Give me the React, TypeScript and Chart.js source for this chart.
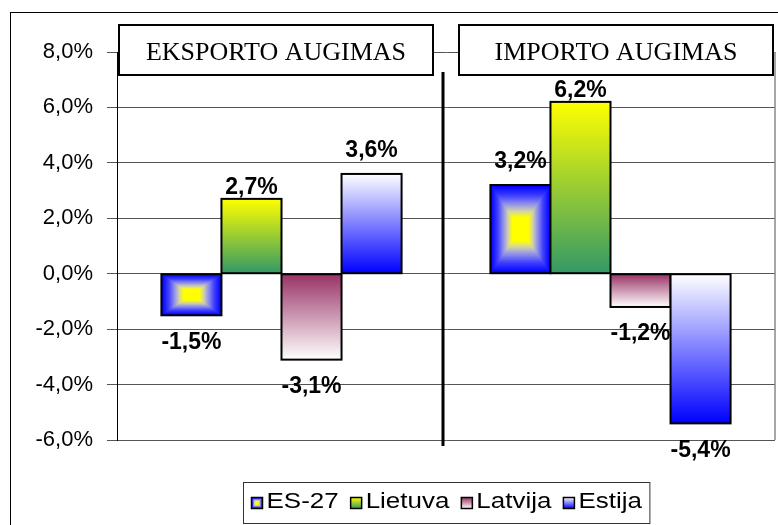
import { useEffect, useRef } from 'react';
import { Chart, registerables } from 'chart.js';

Chart.register(...registerables);

// ---- data ----
const categories = ['EKSPORTO AUGIMAS', 'IMPORTO AUGIMAS'];
const seriesNames = ['ES-27', 'Lietuva', 'Latvija', 'Estija'];
const es27Values = [-1.5, 3.2];
const lietuvaValues = [2.7, 6.2];
const latvijaValues = [-3.1, -1.2];
const estijaValues = [3.6, -5.4];
const yMin = -6;
const yMax = 8;
const yStep = 2;

const fmt = (v: number) => v.toFixed(1).replace('.', ',') + '%';

type Stop = [number, number[]];
function colorAt(stops: Stop[], t: number): string {
  for (let i = 1; i < stops.length; i++) {
    if (t <= stops[i][0]) {
      const [t0, c0] = stops[i - 1];
      const [t1, c1] = stops[i];
      const f = t1 === t0 ? 0 : (t - t0) / (t1 - t0);
      const c = c0.map((v, k) => Math.round(v + (c1[k] - v) * f));
      return `rgb(${c[0]},${c[1]},${c[2]})`;
    }
  }
  const c = stops[stops.length - 1][1];
  return `rgb(${c[0]},${c[1]},${c[2]})`;
}

const esStops: Stop[] = [
  [0, [0, 0, 255]],
  [0.22, [60, 60, 255]],
  [0.42, [145, 145, 235]],
  [0.58, [210, 210, 170]],
  [0.72, [255, 255, 0]],
  [1, [255, 255, 0]],
];

function ringFill(ctx: CanvasRenderingContext2D, x: number, y: number, w: number, h: number) {
  const N = 40;
  for (let i = 0; i < N; i++) {
    const t = i / N;
    const ix = (t * w) / 2;
    const iy = (t * h) / 2;
    ctx.fillStyle = colorAt(esStops, t);
    ctx.fillRect(x + ix, y + iy, w - 2 * ix, h - 2 * iy);
  }
}

function linearFill(top: string, bottom: string) {
  return (ctx: CanvasRenderingContext2D, x: number, y: number, w: number, h: number) => {
    const g = ctx.createLinearGradient(0, y, 0, y + h);
    g.addColorStop(0, top);
    g.addColorStop(1, bottom);
    ctx.fillStyle = g;
    ctx.fillRect(x, y, w, h);
  };
}

const fills = [
  ringFill,
  linearFill('#ffff00', '#339966'),
  linearFill('#993366', '#ffffff'),
  linearFill('#ffffff', '#0000ff'),
];

const SANS = '"Liberation Sans", Arial, sans-serif';
const SERIF = '"Liberation Serif", "Times New Roman", serif';

const decorPlugin = {
  id: 'decor',
  beforeDraw(chart: any) {
    const { ctx, width, height } = chart;
    ctx.save();
    ctx.fillStyle = '#ffffff';
    ctx.fillRect(0, 0, width, height);
    ctx.strokeStyle = '#000';
    ctx.lineWidth = 1;
    ctx.strokeRect(10.5, 12.5, width + 20, height + 20);
    ctx.restore();
  },
  beforeDatasetsDraw(chart: any) {
    const { ctx, chartArea } = chart;
    ctx.save();
    ctx.strokeStyle = '#888';
    ctx.lineWidth = 1.5;
    ctx.beginPath();
    ctx.moveTo(chartArea.right, chartArea.top);
    ctx.lineTo(chartArea.right, chartArea.bottom);
    ctx.stroke();
    ctx.restore();
  },
  afterDatasetsDraw(chart: any, _args: any, opts: any) {
    const { ctx, chartArea } = chart;
    const xScale = chart.scales.x;
    ctx.save();

    // bars
    chart.data.datasets.forEach((ds: any, di: number) => {
      const meta = chart.getDatasetMeta(di);
      meta.data.forEach((el: any) => {
        const { x, y, base, width } = el.getProps(['x', 'y', 'base', 'width'], true);
        const left = x - width / 2;
        const top = Math.min(y, base);
        const h = Math.abs(base - y);
        fills[di](ctx, left, top, width, h);
        ctx.strokeStyle = '#000';
        ctx.lineWidth = 2;
        ctx.strokeRect(left, top, width, h);
      });
    });

    // separator
    const mid = (xScale.getPixelForValue(0) + xScale.getPixelForValue(1)) / 2 - 3;
    ctx.strokeStyle = '#000';
    ctx.lineWidth = 3;
    ctx.beginPath();
    ctx.moveTo(mid, chartArea.top + 20);
    ctx.lineTo(mid, chartArea.bottom + 6);
    ctx.stroke();

    // category title boxes
    const catW = chartArea.width / categories.length;
    categories.forEach((cat, i) => {
      const c = xScale.getPixelForValue(i);
      const cl = c - catW / 2;
      const l = cl + (i === 0 ? 2 : 13);
      const r = cl + catW - (i === 0 ? 13 : 2);
      const t = chartArea.top - 27;
      const b = chartArea.top + 23;
      ctx.fillStyle = '#fff';
      ctx.fillRect(l, t, r - l, b - t);
      ctx.strokeStyle = '#000';
      ctx.lineWidth = 2;
      ctx.strokeRect(l, t, r - l, b - t);
      ctx.fillStyle = '#000';
      ctx.font = `26px ${SERIF}`;
      ctx.textAlign = 'center';
      ctx.textBaseline = 'alphabetic';
      ctx.fillText(cat, (l + r) / 2, chartArea.top + 8);
    });

    // data labels
    ctx.font = `bold 23px ${SANS}`;
    ctx.fillStyle = '#000';
    ctx.textAlign = 'center';
    ctx.textBaseline = 'alphabetic';
    chart.data.datasets.forEach((ds: any, di: number) => {
      const meta = chart.getDatasetMeta(di);
      const gap = opts.labelGaps[di];
      meta.data.forEach((el: any, idx: number) => {
        const v = ds.data[idx];
        const { x, y } = el.getProps(['x', 'y'], true);
        const by = v >= 0 ? y - gap : y + gap + 16.5;
        ctx.fillText(fmt(v), x, by);
      });
    });

    // legend
    const hs = 1.18;
    ctx.font = `22px ${SANS}`;
    const marker = 11;
    const mgap = 4;
    const spacing = 12;
    const widths = seriesNames.map((n) => ctx.measureText(n).width * hs);
    const total =
      widths.reduce((a, b) => a + b, 0) + seriesNames.length * (marker + mgap) + (seriesNames.length - 1) * spacing;
    const pad = 8;
    const cx = (chartArea.left + chartArea.right) / 2;
    const boxL = Math.round(cx - total / 2 - pad) + 0.5;
    const boxT = chartArea.bottom + 42.5;
    const boxW = total + 2 * pad;
    const boxH = 41;
    ctx.fillStyle = '#fff';
    ctx.fillRect(boxL, boxT, boxW, boxH);
    ctx.strokeStyle = '#333';
    ctx.lineWidth = 1;
    ctx.strokeRect(boxL, boxT, boxW, boxH);
    let xx = boxL + pad;
    const my = boxT + 15;
    seriesNames.forEach((n, i) => {
      fills[i](ctx, xx, my, marker, marker);
      ctx.strokeStyle = '#000';
      ctx.lineWidth = 1.5;
      ctx.strokeRect(xx, my, marker, marker);
      xx += marker + mgap;
      ctx.save();
      ctx.translate(xx, boxT + 25);
      ctx.scale(hs, 1);
      ctx.fillStyle = '#000';
      ctx.textAlign = 'left';
      ctx.fillText(n, 0, 0);
      ctx.restore();
      xx += widths[i] + spacing;
    });

    ctx.restore();
  },
};

export default function App() {
  const ref = useRef<HTMLCanvasElement | null>(null);
  useEffect(() => {
    if (!ref.current) return;
    const seriesValues = [es27Values, lietuvaValues, latvijaValues, estijaValues];
    const chart = new Chart(ref.current, {
      type: 'bar',
      data: {
        labels: categories,
        datasets: seriesNames.map((name, i) => ({
          label: name,
          data: seriesValues[i],
          backgroundColor: 'rgba(0,0,0,0)',
          borderWidth: 0,
          categoryPercentage: 0.73,
          barPercentage: 1.0,
        })),
      },
      options: {
        responsive: false,
        animation: false,
        layout: { padding: { left: 0, top: 52, right: 3, bottom: 85 } },
        plugins: {
          legend: { display: false },
          tooltip: { enabled: false },
          title: { display: false },
          decor: { labelGaps: [17, 5, 17, 17] },
        } as any,
        scales: {
          x: { display: false },
          y: {
            min: yMin,
            max: yMax,
            afterFit: (s: any) => {
              s.width = 117;
            },
            ticks: {
              stepSize: yStep,
              callback: (v: any) => fmt(Number(v)),
              color: '#000',
              font: { size: 22, family: SANS },
              padding: 14,
            },
            grid: { color: '#555', lineWidth: 1, tickLength: 10, drawTicks: true },
            border: { display: true, color: '#000', width: 1 },
          },
        },
      },
      plugins: [decorPlugin],
    });
    return () => chart.destroy();
  }, []);
  return (
    <div style={{ position: 'absolute', left: 0, top: 0, width: 778, height: 525 }}>
      <canvas ref={ref} width={778} height={525} style={{ display: 'block' }} />
    </div>
  );
}
